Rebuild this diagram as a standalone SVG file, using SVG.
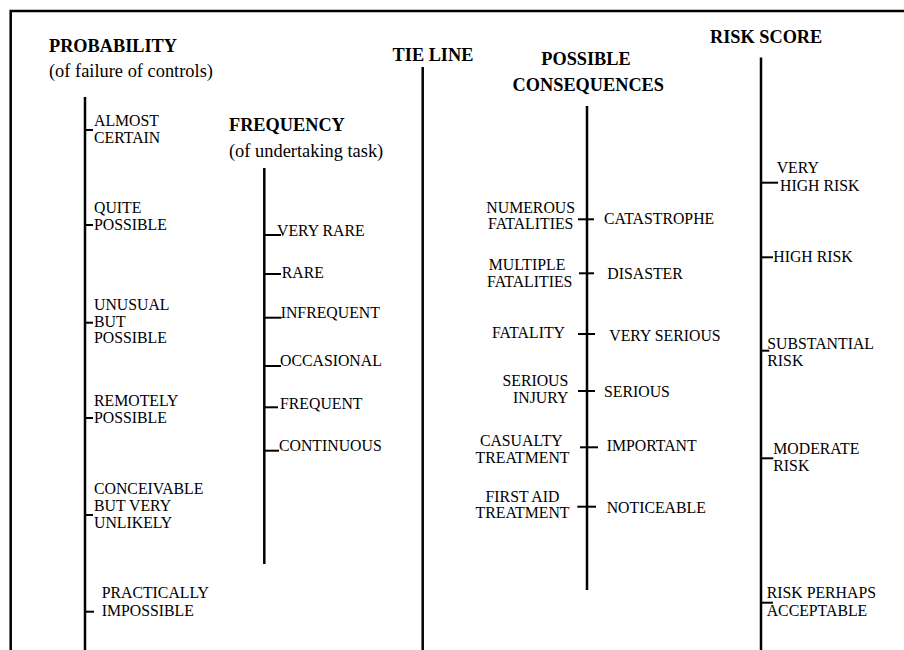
<svg xmlns="http://www.w3.org/2000/svg" width="904" height="650" viewBox="0 0 904 650">
<style>
  text { font-family: "Liberation Serif", "Times New Roman", serif; fill: #000; }
  .h { font-weight: bold; font-size: 18.3px; }
  .sub { font-size: 18.4px; }
  .lb { font-size: 15.8px; }
  .ax { stroke: #000; stroke-width: 2.5; fill: none; }
  .tk { stroke: #000; stroke-width: 2; fill: none; }
  .mid { text-anchor: middle; }
  .end { text-anchor: end; }
</style>
<rect x="0" y="0" width="904" height="650" fill="#fff"/>
<path id="border" class="ax" d="M10.7 660 V11 H910"/>

<g id="connectors">
  <line class="ax" x1="85" y1="97" x2="85" y2="652"/>
  <line class="ax" x1="264.3" y1="168" x2="264.3" y2="564"/>
  <line class="ax" x1="422.7" y1="67" x2="422.7" y2="652"/>
  <line class="ax" x1="587" y1="106" x2="587" y2="590"/>
  <line class="ax" x1="761" y1="57.5" x2="761" y2="652"/>
</g>

<g id="probability">
  <text class="h" x="49" y="52.3">PROBABILITY</text>
  <text class="sub" x="49" y="77">(of failure of controls)</text>
  <g id="p-almost-certain"><line class="tk" x1="85" y1="130" x2="93" y2="130"/><text class="lb" x="94" y="126">ALMOST</text><text class="lb" x="94" y="143">CERTAIN</text></g>
  <g id="p-quite-possible"><line class="tk" x1="85" y1="225" x2="93" y2="225"/><text class="lb" x="94" y="213">QUITE</text><text class="lb" x="94" y="230">POSSIBLE</text></g>
  <g id="p-unusual"><line class="tk" x1="85" y1="322.7" x2="93" y2="322.7"/><text class="lb" x="94" y="310">UNUSUAL</text><text class="lb" x="94" y="326.7">BUT</text><text class="lb" x="94" y="343.3">POSSIBLE</text></g>
  <g id="p-remotely"><line class="tk" x1="85" y1="418" x2="93" y2="418"/><text class="lb" x="94" y="405.7">REMOTELY</text><text class="lb" x="94" y="422.7">POSSIBLE</text></g>
  <g id="p-conceivable"><line class="tk" x1="85" y1="515" x2="93" y2="515"/><text class="lb" x="94" y="494">CONCEIVABLE</text><text class="lb" x="94" y="511">BUT VERY</text><text class="lb" x="94" y="527.7">UNLIKELY</text></g>
  <g id="p-practically"><line class="tk" x1="85" y1="611.7" x2="94" y2="611.7"/><text class="lb" x="101.7" y="598">PRACTICALLY</text><text class="lb" x="101.7" y="615.7">IMPOSSIBLE</text></g>
</g>

<g id="frequency">
  <text class="h" x="229" y="130.7">FREQUENCY</text>
  <text class="sub" x="229" y="156.7">(of undertaking task)</text>
  <g id="f-very-rare"><line class="tk" x1="264" y1="235" x2="281" y2="235"/><text class="lb" x="277" y="236">VERY RARE</text></g>
  <g id="f-rare"><line class="tk" x1="264" y1="274" x2="281" y2="274"/><text class="lb" x="281.7" y="278">RARE</text></g>
  <g id="f-infrequent"><line class="tk" x1="264" y1="317.7" x2="281.5" y2="317.7"/><text class="lb" x="280.7" y="318.3">INFREQUENT</text></g>
  <g id="f-occasional"><line class="tk" x1="264" y1="366" x2="281" y2="366"/><text class="lb" x="280" y="366">OCCASIONAL</text></g>
  <g id="f-frequent"><line class="tk" x1="264" y1="407.3" x2="278" y2="407.3"/><text class="lb" x="280" y="409.3">FREQUENT</text></g>
  <g id="f-continuous"><line class="tk" x1="264" y1="450.7" x2="279" y2="450.7"/><text class="lb" x="279" y="450.7">CONTINUOUS</text></g>
</g>

<g id="tie-line">
  <text class="h mid" x="433" y="60.7">TIE LINE</text>
</g>

<g id="consequences">
  <text class="h mid" x="586" y="65.3">POSSIBLE</text>
  <text class="h mid" x="588.3" y="90.7">CONSEQUENCES</text>
  <g id="c-catastrophe"><line class="tk" x1="578" y1="219.3" x2="594" y2="219.3"/><text class="lb mid" x="530.7" y="212.7">NUMEROUS</text><text class="lb mid" x="530.7" y="229.3">FATALITIES</text><text class="lb" x="604" y="224.3">CATASTROPHE</text></g>
  <g id="c-disaster"><line class="tk" x1="579" y1="273.3" x2="594" y2="273.3"/><text class="lb mid" x="527" y="270">MULTIPLE</text><text class="lb mid" x="529.7" y="286.7">FATALITIES</text><text class="lb" x="607.3" y="279.3">DISASTER</text></g>
  <g id="c-very-serious"><line class="tk" x1="578" y1="334" x2="595" y2="334"/><text class="lb end" x="565" y="338.3">FATALITY</text><text class="lb" x="609.3" y="340.7">VERY SERIOUS</text></g>
  <g id="c-serious"><line class="tk" x1="578" y1="391" x2="595" y2="391"/><text class="lb end" x="568.3" y="386">SERIOUS</text><text class="lb end" x="568.3" y="403.3">INJURY</text><text class="lb" x="604" y="396.7">SERIOUS</text></g>
  <g id="c-important"><line class="tk" x1="580" y1="447.3" x2="598" y2="447.3"/><text class="lb mid" x="521.3" y="446">CASUALTY</text><text class="lb mid" x="522.5" y="462.7">TREATMENT</text><text class="lb" x="606.7" y="451">IMPORTANT</text></g>
  <g id="c-noticeable"><line class="tk" x1="577.3" y1="506.7" x2="596" y2="506.7"/><text class="lb mid" x="522.5" y="501.7">FIRST AID</text><text class="lb mid" x="522.5" y="518.3">TREATMENT</text><text class="lb" x="606.7" y="513.3">NOTICEABLE</text></g>
</g>

<g id="risk-score">
  <text class="h" x="710" y="42.7">RISK SCORE</text>
  <g id="r-very-high"><line class="tk" x1="761" y1="182.7" x2="778" y2="182.7"/><text class="lb" x="776.7" y="173.3">VERY</text><text class="lb" x="780" y="190.7">HIGH RISK</text></g>
  <g id="r-high"><line class="tk" x1="761" y1="257.3" x2="773" y2="257.3"/><text class="lb" x="773.3" y="261.7">HIGH RISK</text></g>
  <g id="r-substantial"><line class="tk" x1="761" y1="350.7" x2="769.3" y2="350.7"/><text class="lb" x="767.3" y="349">SUBSTANTIAL</text><text class="lb" x="767.3" y="365.7">RISK</text></g>
  <g id="r-moderate"><line class="tk" x1="761" y1="458.3" x2="773.3" y2="458.3"/><text class="lb" x="773.3" y="454">MODERATE</text><text class="lb" x="773.3" y="470.7">RISK</text></g>
  <g id="r-acceptable"><line class="tk" x1="761" y1="602.7" x2="773" y2="602.7"/><text class="lb" x="766.7" y="598.3">RISK PERHAPS</text><text class="lb" x="766.7" y="615.7">ACCEPTABLE</text></g>
</g>
</svg>
